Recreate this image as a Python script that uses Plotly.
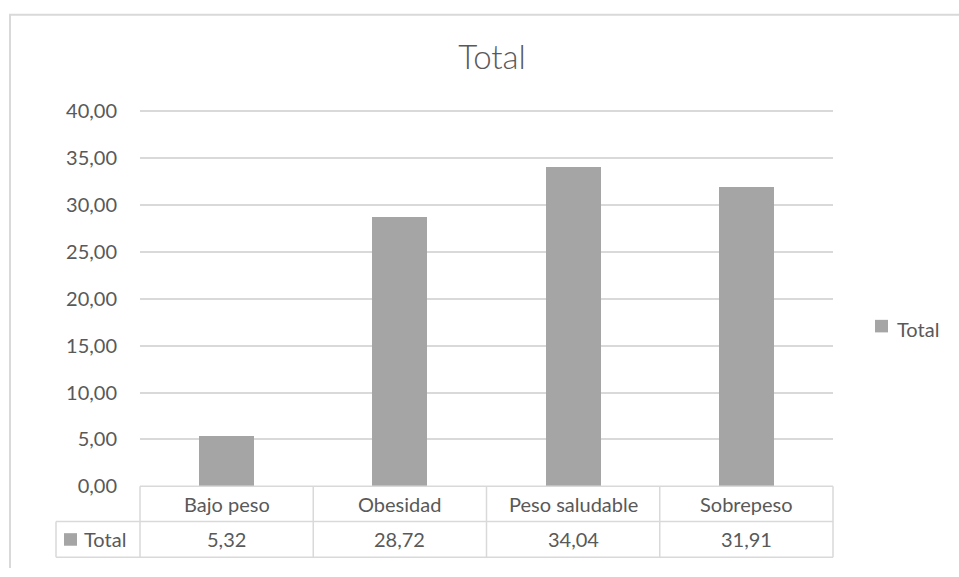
import plotly.graph_objects as go

# Data
categories = ["Bajo peso", "Obesidad", "Peso saludable", "Sobrepeso"]
totals = [5.32, 28.72, 34.04, 31.91]
series_name = "Total"
y_ticks = [0, 5, 10, 15, 20, 25, 30, 35, 40]

W, H = 959, 577
FONT = "Lato, 'Open Sans', sans-serif"
TEXT = "#595959"
LINE = "#d9d9d9"
BAR = "#a5a5a5"


def px(x):
    return x / W


def py(y):
    return 1 - y / H


# plot area in pixels: value 0 sits at PB, value 40 at Y40
PL, PR, PB, Y40 = 140, 833, 494.5, 105.7
Y_MAX = 40.4  # headroom so the 40,00 gridline is not clipped at the edge
PT = PB - (PB - Y40) * Y_MAX / 40
ROW1, ROW2 = 531, 568  # table row boundaries
LEG_L = 56

fig = go.Figure()
fig.add_trace(go.Bar(
    x=list(range(len(categories))), y=totals, name=series_name,
    marker=dict(color=BAR, line=dict(width=0)), width=0.318,
    showlegend=False, hoverinfo="y",
))

shapes = []
# chart border (left and top)
shapes.append(dict(type="line", xref="paper", yref="paper", x0=px(10), x1=px(10),
                   y0=py(6), y1=py(H + 2), line=dict(color=LINE, width=2)))
shapes.append(dict(type="line", xref="paper", yref="paper", x0=px(9), x1=px(W + 2),
                   y0=py(6), y1=py(6), line=dict(color=LINE, width=2)))

# data table grid
def hline(x0, x1, y):
    shapes.append(dict(type="line", xref="paper", yref="paper", x0=px(x0), x1=px(x1),
                       y0=py(y), y1=py(y), line=dict(color=LINE, width=1.5)))


def vline(x, y0, y1):
    shapes.append(dict(type="line", xref="paper", yref="paper", x0=px(x), x1=px(x),
                       y0=py(y0), y1=py(y1), line=dict(color=LINE, width=1.5)))


hline(PL, PR, PB)
hline(LEG_L, PR, ROW1)
hline(LEG_L, PR, ROW2)
vline(LEG_L, ROW1, ROW2)
n = len(categories)
for i in range(n + 1):
    vline(PL + (PR - PL) * i / n, PB, ROW2)

# legend keys (table and right-hand legend)
shapes.append(dict(type="rect", xref="paper", yref="paper", x0=px(64), x1=px(77),
                   y0=py(543), y1=py(556), fillcolor=BAR, line=dict(width=0)))
shapes.append(dict(type="rect", xref="paper", yref="paper", x0=px(875), x1=px(888),
                   y0=py(322), y1=py(335), fillcolor=BAR, line=dict(width=0)))

annotations = []
for i, (cat, val) in enumerate(zip(categories, totals)):
    annotations.append(dict(x=i, xref="x", y=py(512.5), yref="paper", text=cat,
                            showarrow=False, xanchor="center", yanchor="middle",
                            font=dict(family=FONT, size=20, color=TEXT)))
    annotations.append(dict(x=i, xref="x", y=py(549.5), yref="paper",
                            text=f"{val:.2f}".replace(".", ","),
                            showarrow=False, xanchor="center", yanchor="middle",
                            font=dict(family=FONT, size=20, color=TEXT)))
annotations.append(dict(x=px(82), xref="paper", y=py(549.5), yref="paper", text=series_name,
                        showarrow=False, xanchor="left", yanchor="middle",
                        font=dict(family=FONT, size=20, color=TEXT)))
annotations.append(dict(x=px(895), xref="paper", y=py(331), yref="paper", text=series_name,
                        showarrow=False, xanchor="left", yanchor="middle",
                        font=dict(family=FONT, size=20, color=TEXT)))

fig.update_layout(
    width=W, height=H,
    margin=dict(l=0, r=0, t=0, b=0),
    paper_bgcolor="white", plot_bgcolor="white",
    separators=",.",
    title=dict(text="Total", x=px(492), xanchor="center", y=py(57), yanchor="middle",
               font=dict(family=FONT, size=33, color=TEXT, weight=300)),
    xaxis=dict(domain=[px(PL), px(PR)], range=[-0.5, n - 0.5],
               showticklabels=False, showgrid=False, zeroline=False, showline=False,
               fixedrange=True),
    yaxis=dict(domain=[py(PB), py(PT)], range=[0, Y_MAX], tickvals=y_ticks,
               tickformat=".2f", showgrid=True, gridcolor=LINE, gridwidth=1.5,
               zeroline=False, showline=False, ticks="", ticklabelstandoff=22,
               tickfont=dict(family=FONT, size=20, color=TEXT), fixedrange=True),
    shapes=shapes,
    annotations=annotations,
    bargap=0,
)

fig.write_html("out.html")
